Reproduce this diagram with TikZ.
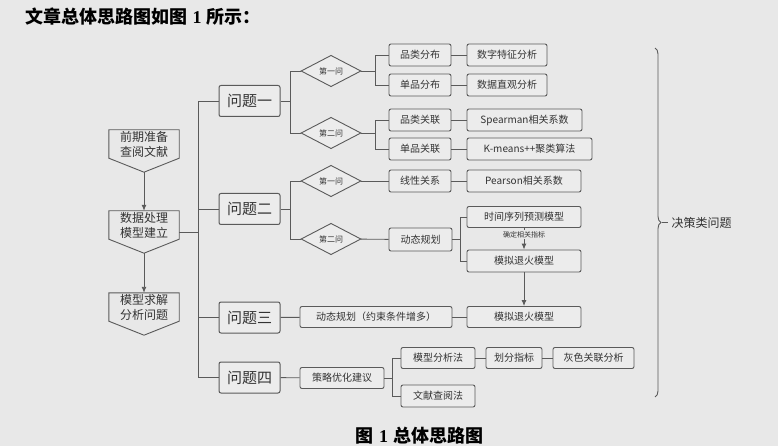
\documentclass[tikz,border=0pt]{standalone}
\usepackage{fontspec}
\setmainfont{Noto Sans CJK SC}
\newfontfamily\numfont{Liberation Serif}
\usetikzlibrary{arrows.meta,positioning,shapes.geometric,decorations.pathreplacing}
\definecolor{mapBg}{HTML}{E8E8E8}
\definecolor{mapLine}{HTML}{5A5A5A}
\definecolor{mapText}{HTML}{333333}
\definecolor{mapFill}{HTML}{ECECEC}
\tikzset{
  >={Latex[length=6pt,width=5pt]},
  qbox/.style={rounded corners=2pt, draw=mapLine, fill=mapFill, line width=1pt,
              minimum width=61pt, minimum height=31pt, inner sep=0pt,
              font=\fontsize{15}{15}\selectfont, text=mapText},
  sbox/.style={rounded corners=2pt, draw=mapLine, fill=mapFill, line width=0.9pt,
              minimum height=22pt, inner sep=0pt,
              font=\fontsize{10}{10}\selectfont, text=mapText},
  ask/.style={diamond, draw=mapLine, fill=mapFill, line width=0.9pt,
              minimum width=60pt, minimum height=27pt, inner sep=0pt,
              font=\fontsize{8}{8}\selectfont, text=mapText},
  stage/.style={minimum width=70pt, minimum height=28pt, inner sep=0pt, align=center,
              font=\fontsize{12}{15}\selectfont, text=mapText},
  link/.style={draw=mapLine, line width=0.9pt},
  flow/.style={->, draw=mapLine, line width=0.9pt},
}

\begin{document}
\begin{tikzpicture}[x=1pt,y=-1pt]
    \useasboundingbox (0,0) rectangle (778,446);
    \fill[mapBg] (0,0) rectangle (778,446);
    \node[anchor=west,font=\bfseries\fontsize{18}{18}\selectfont] (title) at (22,17)
      {文章总体思路图如图\hspace{5pt}{\numfont 1}\hspace{5pt}所示：};
    \node[font=\bfseries\fontsize{18}{18}\selectfont] (caption) at (419,436)
      {图\hspace{6pt}{\numfont 1}\hspace{5pt}总体思路图};

    % left column
    \node[stage] (prep) at (144,144) {前期准备\\查阅文献};
    \node[stage] (model) at (144,225) {数据处理\\模型建立};
    \node[stage] (solve) at (144,307) {模型求解\\分析问题};
    \foreach \s in {prep,model,solve}
      \draw[link] (\s.north west) -- (\s.north east) -- (\s.south east)
        -- ([yshift=-14pt]\s.south) -- (\s.south west) -- cycle;
    \draw[flow] ([yshift=-14pt]prep.south) -- (model.north);
    \draw[flow] ([yshift=-14pt]model.south) -- (solve.north);

    % questions
    \node[qbox] (q1) at (249.5,101) {问题一};
    \node[qbox] (q2) at (249.5,209) {问题二};
    \node[qbox] (q3) at (249.5,317.5) {问题三};
    \node[qbox] (q4) at (249.5,377.5) {问题四};
    \coordinate (trunk) at (199,232);
    \draw[link] ([yshift=-7pt]model.east) -- (trunk);
    \draw[link] (q1.west) -- ++(-20,0) |- (q4.west);
    \draw[link] (q2.west) -- ++(-20,0);
    \draw[link] (q3.west) -- ++(-20,0);

    \node[ask] (d11) at (331,71) {第一问};
    \node[ask] (d12) at (331,133) {第二问};
    \node[ask] (d21) at (331,181) {第一问};
    \node[ask] (d22) at (331,239) {第二问};
    \draw[link] (q1.east) -- ++(10,0) coordinate (q1b);
    \draw[link] (d11.west) -| (q1b) |- (d12.west);
    \draw[link] (q2.east) -- ++(10,0) coordinate (q2b);
    \draw[link] (d21.west) -| (q2b) |- (d22.west);

    % question one
    \node[sbox,minimum width=62pt] (pcat) at (420,55) {品类分布};
    \node[sbox,minimum width=62pt] (pitem) at (420,85) {单品分布};
    \node[sbox,minimum width=62pt] (rcat) at (420,120) {品类关联};
    \node[sbox,minimum width=62pt] (ritem) at (420,149) {单品关联};
    \node[sbox,minimum width=80pt] (feat) at (507,55) {数字特征分析};
    \node[sbox,minimum width=80pt] (visual) at (507,85) {数据直观分析};
    \node[sbox,minimum width=115pt] (spear) at (524.5,120) {Spearman相关系数};
    \node[sbox,minimum width=125pt] (kmean) at (529.5,149) {K-means++聚类算法};
    \draw[link] (d11.east) -- ++(14,0) coordinate (d11b);
    \draw[link] (pcat.west) -| (d11b) |- (pitem.west);
    \draw[link] (d12.east) -- ++(14,0) coordinate (d12b);
    \draw[link] (rcat.west) -| (d12b) |- (ritem.west);
    \draw[link] (pcat) -- (feat);
    \draw[link] (pitem) -- (visual);
    \draw[link] (rcat) -- (spear);
    \draw[link] (ritem) -- (kmean);

    % question two
    \node[sbox,minimum width=62pt] (linear) at (420,181) {线性关系};
    \node[sbox,minimum width=114pt] (pears) at (524,181) {Pearson相关系数};
    \node[sbox,minimum width=63pt,minimum height=23pt] (dyn) at (420.5,239.5) {动态规划};
    \node[sbox,minimum width=114pt,minimum height=21pt] (series) at (524,217) {时间序列预测模型};
    \node[sbox,minimum width=114pt] (anneal) at (524,261) {模拟退火模型};
    \draw[link] (d21) -- (linear);
    \draw[link] (linear) -- (pears);
    \draw[link] (d22) -- (dyn);
    \draw[link] (dyn.east) -- ++(8,0) coordinate (dynb);
    \draw[link] (series.west) -| (dynb) |- (anneal.west);
    \draw[flow] (series) -- node[pos=0.3,fill=mapBg,inner sep=1pt,text=mapText,
      font=\fontsize{7}{7}\selectfont] (pick) {确定相关指标} (anneal);

    % question three
    \node[sbox,minimum width=152pt,minimum height=21pt] (dyn3) at (376,317) {动态规划（约束条件增多）};
    \node[sbox,minimum width=114pt,minimum height=21pt] (anneal3) at (524,317) {模拟退火模型};
    \draw[link] (q3) -- (dyn3);
    \draw[link] (dyn3) -- (anneal3);
    \draw[flow] (anneal) -- (anneal3);

    % question four
    \node[sbox,minimum width=84pt,minimum height=21pt] (advice) at (342,378) {策略优化建议};
    \node[sbox,minimum width=74pt,minimum height=21pt] (mana) at (438,358) {模型分析法};
    \node[sbox,minimum width=74pt] (lit) at (438,396) {文献查阅法};
    \node[sbox,minimum width=56pt,minimum height=21pt] (split) at (514,358) {划分指标};
    \node[sbox,minimum width=81pt,minimum height=21pt] (grey) at (593.5,358) {灰色关联分析};
    \draw[link] (q4) -- (advice);
    \draw[link] (advice.east) -- ++(8,0) coordinate (adviceb);
    \draw[link] (mana.west) -| (adviceb) |- (lit.west);
    \draw[link] (mana) -- (split);
    \draw[link] (split) -- (grey);

    % brace
    \draw[link,decorate,decoration={brace,amplitude=6pt}] (655,48) -- (655,397)
      coordinate[midway,xshift=7pt] (tip);
    \node[anchor=west,text=mapText,font=\fontsize{12}{12}\selectfont] (kind) at (668,222.5) {决策类问题};
    \draw[link] (tip) -- (kind.west);
  \end{tikzpicture}
\end{document}
